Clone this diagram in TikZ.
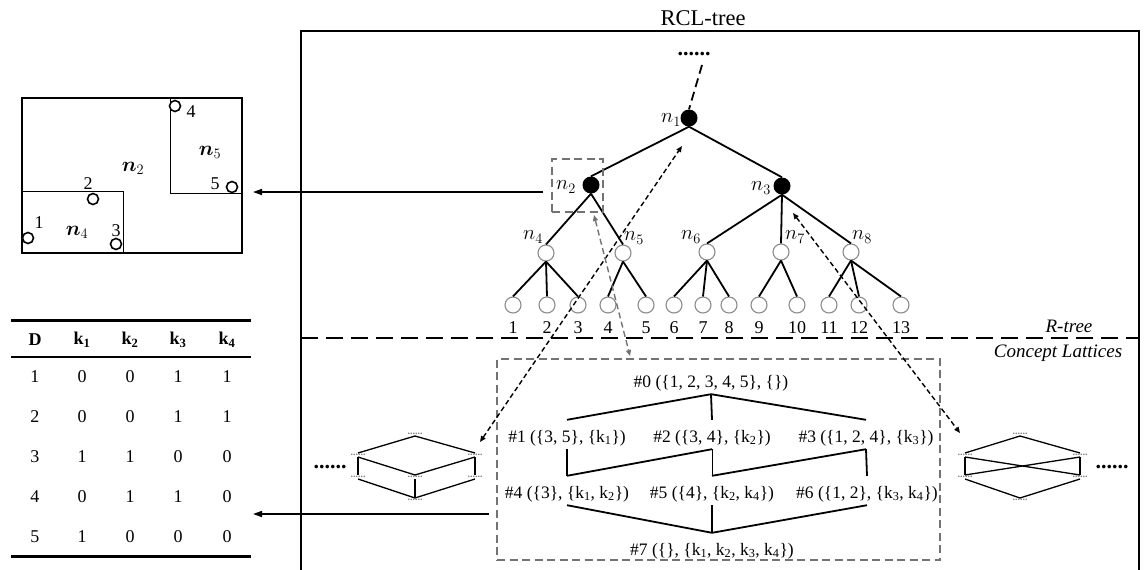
\documentclass[tikz,border=0pt]{standalone}
\usepackage{fontspec}
\setmainfont{Liberation Serif}
\usepackage{amsmath}
\usetikzlibrary{arrows.meta}

\newcommand{\kw}[1]{k\textsubscript{#1}}
\newcommand{\setfs}[1]{\fontsize{#1}{#1}\selectfont}

\tikzset{
  edge/.style={line width=1.8pt},
  bnode/.style={circle, fill=black, minimum size=17pt, inner sep=0pt},
  wnode/.style={circle, draw=black!45, line width=1.1pt, fill=white, minimum size=16pt, inner sep=0pt},
  nlab/.style={font=\setfs{21}, inner sep=0pt},
  leafnum/.style={font=\setfs{18}, inner sep=0pt},
  pt/.style={circle, draw=black, line width=1.6pt, fill=white, minimum size=11pt, inner sep=0pt},
  ptlab/.style={font=\setfs{18}, inner sep=0pt},
  rlab/.style={font=\setfs{21}, inner sep=0pt},
  cell/.style={font=\setfs{18}, inner sep=0pt},
  lat/.style={font=\setfs{17.5}, anchor=base, inner xsep=4pt, inner ysep=2pt, text height=20pt, text depth=5pt},
  latedge/.style={line width=1.8pt},
  tiny/.style={font=\bfseries\setfs{10}, text=black!50, inner sep=1pt},
  tinyedge/.style={line width=1.3pt},
  bigdots/.style={font=\bfseries\setfs{22}, inner sep=0pt},
  solidarrow/.style={line width=1.6pt, -{Triangle[length=9pt,width=6pt]}},
  dasharrow/.style={line width=1.4pt, dash pattern=on 5pt off 3pt,
    {Triangle[length=6pt,width=5pt]}-{Triangle[length=6pt,width=5pt]}},
  grayarrow/.style={dasharrow, draw=black!55, dash pattern=on 6pt off 3.5pt},
  graybox/.style={draw=black!55, line width=1.8pt, dash pattern=on 8pt off 4.5pt, inner sep=0pt}
}

\begin{document}
\begin{tikzpicture}[x=1pt, y=-1pt]
\useasboundingbox (0,0) rectangle (1146,570);

% ---------- RCL-tree frame ----------
\draw[line width=1.4pt] (301,580) -- (301,31) -- (1139,31) -- (1139,580);
\node[font=\setfs{22.5}, inner sep=0pt] (title) at (703,18) {RCL-tree};

% ---------- bounding rectangles of node n2 ----------
\draw[line width=1.8pt] (22,98) rectangle (242,253);
\draw[line width=1pt] (22,191) -| (123,253);
\draw[line width=1pt] (170,98) |- (242,193);
\node[pt] (p1) at (28,238) {};
\node[pt] (p2) at (93,199) {};
\node[pt] (p3) at (116,244) {};
\node[pt] (p4) at (175,106) {};
\node[pt] (p5) at (232,187) {};
\node[ptlab] (p1l) at (39,223) {1};
\node[ptlab] (p2l) at (88,184) {2};
\node[ptlab] (p3l) at (116,231) {3};
\node[ptlab] (p4l) at (191,112) {4};
\node[ptlab] (p5l) at (215,184) {5};
\node[rlab] (r2) at (133,168) {$\boldsymbol{n}_2$};
\node[rlab] (r5) at (210,152) {$\boldsymbol{n}_5$};
\node[rlab] (r4) at (77,232) {$\boldsymbol{n}_4$};

% ---------- document/keyword table ----------
\draw[line width=3pt] (11,320) -- (251,320);
\draw[line width=2pt] (11,357) -- (251,357);
\draw[line width=3pt] (11,556) -- (251,556);
\node[cell] (hD) at (35,340) {\textbf{D}};
\node[cell] (h1) at (82,340) {\textbf{k\textsubscript{1}}};
\node[cell] (h2) at (130,340) {\textbf{k\textsubscript{2}}};
\node[cell] (h3) at (178,340) {\textbf{k\textsubscript{3}}};
\node[cell] (h4) at (227,340) {\textbf{k\textsubscript{4}}};
\foreach \d/\a/\b/\c/\e/\y in {1/0/0/1/1/377, 2/0/0/1/1/417, 3/1/1/0/0/457, 4/0/1/1/0/497, 5/1/0/0/0/537}{
  \node[cell] (d\d) at (35,\y) {\d};
  \node[cell] (d\d k1) at (82,\y) {\a};
  \node[cell] (d\d k2) at (130,\y) {\b};
  \node[cell] (d\d k3) at (178,\y) {\c};
  \node[cell] (d\d k4) at (227,\y) {\e};
}

% ---------- R-tree part ----------
\node[bigdots] (topdots) at (694,54) {......};
\coordinate (up) at (702,65);
\node[bnode] (n1) at (689,118) {};
\node[bnode] (n2) at (591,185) {};
\node[bnode] (n3) at (782,186) {};
\draw[edge, dash pattern=on 9pt off 5pt] (up) -- (n1.north);

\node[wnode] (n4) at (546,253) {};
\node[wnode] (n5) at (623,253) {};
\node[wnode] (n6) at (707,252) {};
\node[wnode] (n7) at (781,252) {};
\node[wnode] (n8) at (851,252) {};

\node[nlab] (n1l) at (671,120) {$n_1$};
\node[nlab] (n2l) at (566,187) {$n_2$};
\node[nlab] (n3l) at (761,188) {$n_3$};
\node[nlab] (n4l) at (533,237) {$n_4$};
\node[nlab] (n5l) at (634,238) {$n_5$};
\node[nlab] (n6l) at (691,237) {$n_6$};
\node[nlab] (n7l) at (795,237) {$n_7$};
\node[nlab] (n8l) at (862,237) {$n_8$};

\foreach \i/\x in {1/513, 2/547, 3/578, 4/608, 5/646, 6/674, 7/703, 8/729, 9/759, 10/797, 11/829, 12/859, 13/901}{
  \node[wnode] (l\i) at (\x,305) {};
  \node[leafnum] (l\i n) at (\x,328) {\i};
}

\draw[edge] (n1.south) -- (n2.north);
\draw[edge] (n1.south) -- (n3.north);
\draw[edge] (n2.south) -- (n4.north);
\draw[edge] (n2.south) -- (n5.north);
\draw[edge] (n3.south) -- (n6.north);
\draw[edge] (n3.south) -- (n7.north);
\draw[edge] (n3.south) -- (n8.north);
\foreach \p/\c in {n4/l1, n4/l2, n4/l3, n5/l4, n5/l5, n6/l6, n6/l7, n6/l8, n7/l9, n7/l10, n8/l11, n8/l12, n8/l13}{
  \draw[edge] (\p.south) -- (\c.north);
}

% dashed frame around n2
\node[graybox, minimum width=51pt, minimum height=53pt] (n2box) at (577.5,185.5) {};

% ---------- separator between the two parts ----------
\coordinate (sepL) at (301,338);
\coordinate (sepR) at (1139,338);
\draw[line width=1.8pt, dash pattern=on 17pt off 8pt] (sepL) -- (sepR);
\node[font=\itshape\setfs{19}, inner sep=0pt] (rtree) at (1069,326) {R-tree};
\node[font=\itshape\setfs{19}, inner sep=0pt] (cl) at (1058,353) {Concept Lattices};

% ---------- concept lattice of n2 ----------
\node[graybox, minimum width=443pt, minimum height=201pt] (lbox) at (718.5,459.5) {};
\node[lat] (c0) at (711,387) {\#0 (\{1, 2, 3, 4, 5\}, \{\})};
\node[lat] (c1) at (567,442) {\#1 (\{3, 5\}, \{\kw{1}\})};
\node[lat] (c2) at (712,442) {\#2 (\{3, 4\}, \{\kw{2}\})};
\node[lat] (c3) at (866,442) {\#3 (\{1, 2, 4\}, \{\kw{3}\})};
\node[lat] (c4) at (567,498) {\#4 (\{3\}, \{\kw{1}, \kw{2}\})};
\node[lat] (c5) at (712,498) {\#5 (\{4\}, \{\kw{2}, \kw{4}\})};
\node[lat] (c6) at (867,498) {\#6 (\{1, 2\}, \{\kw{3}, \kw{4}\})};
\node[lat] (c7) at (712,555) {\#7 (\{\}, \{\kw{1}, \kw{2}, \kw{3}, \kw{4}\})};

\draw[latedge] (c0.south) -- (c1.north);
\draw[latedge] (c0.south) -- (c2.north);
\draw[latedge] (c0.south) -- (c3.north);
\draw[latedge] (c1.south) -- (c4.north);
\draw[latedge] (c2.south) -- (c4.north);
\draw[latedge, line width=1pt] (c2.south) -- (c5.north);
\draw[latedge] (c3.south) -- (c5.north);
\draw[latedge] (c3.south) -- (c6.north);
\draw[latedge] (c4.south) -- (c7.north);
\draw[latedge] (c5.south) -- (c7.north);
\draw[latedge] (c6.south) -- (c7.north);

% ---------- neighbouring lattices (left) ----------
\node[bigdots] (dotsL) at (330,467) {......};
\node[tiny] (sT) at (415,434) {......};
\node[tiny] (sL1) at (358,455) {......};
\node[tiny] (sR1) at (475,455) {......};
\node[tiny] (sL2) at (358,477) {......};
\node[tiny] (sM2) at (415,477) {......};
\node[tiny] (sR2) at (475,477) {......};
\node[tiny] (sB) at (415,500) {......};
\draw[tinyedge] (sT.south) -- (sL1.north);
\draw[tinyedge] (sT.south) -- (sR1.north);
\draw[tinyedge] (sL1.south) -- (sL2.north);
\draw[tinyedge] (sL1.south) -- (sM2.north);
\draw[tinyedge] (sR1.south) -- (sM2.north);
\draw[tinyedge] (sR1.south) -- (sR2.north);
\draw[tinyedge] (sL2.south) -- (sB.north);
\draw[tinyedge] (sM2.south) -- (sB.north);
\draw[tinyedge] (sR2.south) -- (sB.north);

% ---------- neighbouring lattices (right) ----------
\node[bigdots] (dotsR) at (1112,467) {......};
\node[tiny] (rT) at (1020,434) {......};
\node[tiny] (rL1) at (965,455) {......};
\node[tiny] (rR1) at (1080,455) {......};
\node[tiny] (rL2) at (965,477) {......};
\node[tiny] (rR2) at (1080,477) {......};
\node[tiny] (rB) at (1020,500) {......};
\draw[tinyedge] (rT.south) -- (rL1.north);
\draw[tinyedge] (rT.south) -- (rR1.north);
\draw[tinyedge] (rL1.south) -- (rL2.north);
\draw[tinyedge] (rR1.south) -- (rR2.north);
\draw[tinyedge] (rL1.south) -- (rR2.north);
\draw[tinyedge] (rR1.south) -- (rL2.north);
\draw[tinyedge] (rL2.south) -- (rB.north);
\draw[tinyedge] (rR2.south) -- (rB.north);

% ---------- links between tree nodes and lattices ----------
\coordinate (aTop) at (682,146);
\coordinate (aBot) at (480,442);
\draw[dasharrow] (aBot) -- (aTop);
\coordinate (bTop) at (594,215);
\coordinate (bBot) at (630,356);
\draw[grayarrow] (bTop) -- (bBot);
\coordinate (cTop) at (793,213);
\coordinate (cBot) at (960,433);
\draw[dasharrow] (cTop) -- (cBot);

% ---------- links to the left-hand views ----------
\coordinate (mbrTip) at (253,192);
\coordinate (mbrTail) at (543,192);
\draw[solidarrow] (mbrTail) -- (mbrTip);
\coordinate (tabTip) at (253,514);
\coordinate (tabTail) at (489,514);
\draw[solidarrow] (tabTail) -- (tabTip);
\end{tikzpicture}
\end{document}
